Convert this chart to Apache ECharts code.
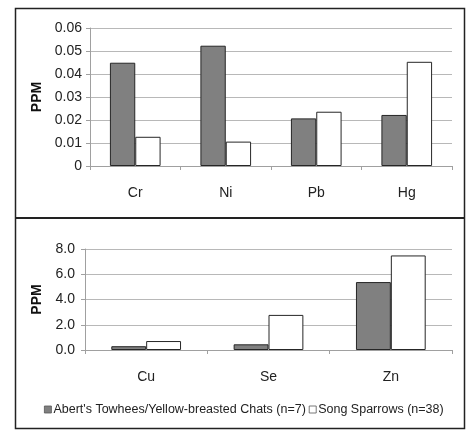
<!DOCTYPE html>
<html><head><meta charset="utf-8">
<script src="https://cdn.jsdelivr.net/npm/echarts@6/dist/echarts.min.js"></script>
<style>html,body{margin:0;padding:0;background:#fff}#c{width:467px;height:432px}</style>
</head><body><div id="c"></div>
<script>
var topCats = ['Cr','Ni','Pb','Hg'];
var topAbert = [0.0449, 0.0523, 0.0207, 0.0222];
var topSong = [0.0127, 0.0106, 0.0236, 0.0453];
var botCats = ['Cu','Se','Zn'];
var botAbert = [0.3, 0.45, 5.38];
var botSong = [0.71, 2.78, 7.49];
var topTicks = ['0','0.01','0.02','0.03','0.04','0.05','0.06'];
var botTicks = ['0.0','2.0','4.0','6.0','8.0'];
var nameA = "Abert's Towhees/Yellow-breasted Chats (n=7)";
var nameS = 'Song Sparrows (n=38)';

var font = 'Liberation Sans, Arial, sans-serif';
var chart = echarts.init(document.getElementById('c'), null, {renderer:'canvas'});
var darkStyle = {color:'#808080', borderColor:'#262626', borderWidth:1};
var whiteStyle = {color:'#ffffff', borderColor:'#262626', borderWidth:1};
function yAxis(idx, max, interval, ticks, margin){
  return {type:'value', gridIndex:idx, min:0, max:max, interval:interval,
    name:'PPM', nameLocation:'middle', nameGap: 0, nameRotate:90,
    nameTextStyle:{fontFamily:font, fontSize:14, fontWeight:'bold', color:'#111'},
    axisLine:{show:true, lineStyle:{color:'#a0a0a0'}},
    axisTick:{show:true, length:4, lineStyle:{color:'#a0a0a0'}},
    axisLabel:{margin:margin, fontFamily:font, fontSize:14, color:'#222',
      formatter:function(v){ var i = Math.round(v/interval); return ticks[i]; }},
    splitLine:{show:true, lineStyle:{color:'#b8b8b8'}}};
}
function xAxis(idx, cats){
  return {type:'category', gridIndex:idx, data:cats,
    axisLine:{show:true, lineStyle:{color:'#a0a0a0'}},
    axisTick:{show:true, length:4, inside:false, lineStyle:{color:'#a0a0a0'}},
    axisLabel:{margin:20, fontFamily:font, fontSize:14, color:'#222'}};
}
var yA = yAxis(0, 0.06, 0.01, topTicks, 8);
yA.nameGap = 42;
var yB = yAxis(1, 8, 2, botTicks, 10);
yB.nameGap = 37;
chart.setOption({
  animation:false,
  graphic:[
    {type:'rect', shape:{x:15.5, y:8.5, width:449, height:420}, style:{fill:'none', stroke:'#222', lineWidth:1.5}, z:100},
    {type:'line', shape:{x1:15, y1:218, x2:465, y2:218}, style:{stroke:'#222', lineWidth:2}, z:100}
  ],
  legend:{left:44, top:403, width:420, padding:0, itemWidth:7, itemHeight:7, itemGap:3,
    itemStyle:{borderWidth:0.8, borderColor:'#555'},
    textStyle:{fontFamily:font, fontSize:12.5, color:'#222', padding:[0,0,0,-3]},
    data:[{name:nameA, icon:'rect'},{name:nameS, icon:'rect'}]},
  grid:[{left:90, right:15, top:28, height:138},{left:85, right:15, top:249, height:101}],
  xAxis:[xAxis(0, topCats), xAxis(1, botCats)],
  yAxis:[yA, yB],
  series:[
    {name:nameA, type:'bar', xAxisIndex:0, yAxisIndex:0, data:topAbert, itemStyle:darkStyle, barWidth:'28%', barGap:'0%'},
    {name:nameS, type:'bar', xAxisIndex:0, yAxisIndex:0, data:topSong, itemStyle:whiteStyle, barWidth:'28%', barGap:'0%'},
    {name:nameA, type:'bar', xAxisIndex:1, yAxisIndex:1, data:botAbert, itemStyle:darkStyle, barWidth:'28.5%', barGap:'0%'},
    {name:nameS, type:'bar', xAxisIndex:1, yAxisIndex:1, data:botSong, itemStyle:whiteStyle, barWidth:'28.5%', barGap:'0%'}
  ]
});
</script></body></html>
